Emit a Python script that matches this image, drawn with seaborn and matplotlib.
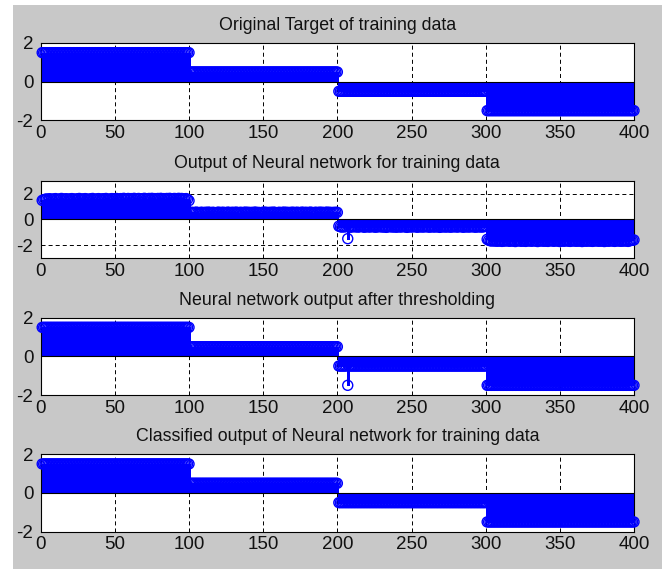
import matplotlib
matplotlib.use("Agg")
import numpy as np
import pandas as pd
import seaborn as sns
import matplotlib.pyplot as plt
from matplotlib.patches import Rectangle

# ---------------- data ----------------
sample_index = list(range(1, 401))
class_levels = [1.5, 0.5, -0.5, -1.5]
samples_per_class = 100
target = [lvl for lvl in class_levels for _ in range(samples_per_class)]

nn_output_class1 = [
    1.47, 1.52, 1.56, 1.58, 1.55, 1.60, 1.57, 1.53, 1.59, 1.61,
    1.56, 1.54, 1.58, 1.62, 1.57, 1.55, 1.60, 1.58, 1.53, 1.59,
    1.61, 1.56, 1.58, 1.54, 1.60, 1.62, 1.57, 1.55, 1.59, 1.61,
    1.58, 1.53, 1.57, 1.60, 1.62, 1.56, 1.54, 1.59, 1.61, 1.57,
    1.55, 1.60, 1.58, 1.62, 1.56, 1.53, 1.59, 1.61, 1.57, 1.60,
    1.62, 1.58, 1.55, 1.61, 1.59, 1.63, 1.57, 1.60, 1.62, 1.56,
    1.61, 1.58, 1.63, 1.59, 1.57, 1.62, 1.60, 1.55, 1.61, 1.63,
    1.58, 1.60, 1.62, 1.57, 1.63, 1.59, 1.61, 1.56, 1.62, 1.60,
    1.63, 1.58, 1.61, 1.59, 1.62, 1.57, 1.63, 1.60, 1.58, 1.62,
    1.61, 1.59, 1.63, 1.57, 1.62, 1.60, 1.58, 1.61, 1.55, 1.45,
]
nn_output_class2 = [
    0.53, 0.55, 0.52, 0.54, 0.56, 0.53, 0.51, 0.55, 0.54, 0.52,
    0.55, 0.53, 0.56, 0.54, 0.52, 0.55, 0.53, 0.51, 0.54, 0.56,
    0.52, 0.54, 0.55, 0.53, 0.51, 0.56, 0.54, 0.52, 0.55, 0.53,
    0.54, 0.56, 0.52, 0.53, 0.55, 0.51, 0.54, 0.56, 0.53, 0.55,
    0.52, 0.54, 0.53, 0.55, 0.56, 0.52, 0.54, 0.51, 0.53, 0.55,
    0.56, 0.53, 0.54, 0.52, 0.55, 0.53, 0.56, 0.54, 0.51, 0.53,
    0.55, 0.52, 0.54, 0.56, 0.53, 0.55, 0.52, 0.54, 0.53, 0.56,
    0.51, 0.54, 0.55, 0.53, 0.52, 0.56, 0.54, 0.53, 0.55, 0.52,
    0.54, 0.56, 0.53, 0.51, 0.55, 0.54, 0.52, 0.56, 0.53, 0.55,
    0.52, 0.54, 0.56, 0.53, 0.55, 0.51, 0.54, 0.53, 0.55, 0.54,
]
nn_output_class3 = [
    -0.53, -0.57, -0.60, -0.56, -0.59, -0.55, -1.50, -0.58, -0.61, -0.57,
    -0.55, -0.59, -0.56, -0.60, -0.58, -0.54, -0.57, -0.61, -0.59, -0.56,
    -0.58, -0.60, -0.55, -0.57, -0.59, -0.61, -0.56, -0.58, -0.54, -0.60,
    -0.57, -0.59, -0.62, -0.56, -0.58, -0.55, -0.60, -0.57, -0.59, -0.61,
    -0.56, -0.58, -0.60, -0.55, -0.57, -0.59, -0.62, -0.58, -0.56, -0.60,
    -0.57, -0.55, -0.59, -0.61, -0.58, -0.56, -0.60, -0.57, -0.59, -0.55,
    -0.58, -0.61, -0.56, -0.59, -0.57, -0.60, -0.55, -0.58, -0.62, -0.57,
    -0.59, -0.56, -0.60, -0.58, -0.55, -0.61, -0.57, -0.59, -0.56, -0.58,
    -0.60, -0.57, -0.55, -0.59, -0.61, -0.58, -0.56, -0.60, -0.57, -0.59,
    -0.55, -0.58, -0.61, -0.57, -0.59, -0.56, -0.60, -0.58, -0.57, -0.52,
]
nn_output_class4 = [
    -1.55, -1.62, -1.66, -1.68, -1.64, -1.69, -1.66, -1.70, -1.65, -1.68,
    -1.71, -1.66, -1.69, -1.64, -1.67, -1.70, -1.68, -1.65, -1.69, -1.72,
    -1.67, -1.64, -1.68, -1.70, -1.66, -1.69, -1.71, -1.65, -1.68, -1.66,
    -1.70, -1.67, -1.64, -1.69, -1.72, -1.66, -1.68, -1.65, -1.70, -1.67,
    -1.69, -1.71, -1.66, -1.64, -1.68, -1.70, -1.67, -1.65, -1.69, -1.72,
    -1.66, -1.68, -1.70, -1.64, -1.67, -1.69, -1.71, -1.65, -1.68, -1.66,
    -1.70, -1.67, -1.69, -1.64, -1.72, -1.68, -1.66, -1.70, -1.65, -1.69,
    -1.67, -1.71, -1.66, -1.68, -1.64, -1.70, -1.67, -1.69, -1.65, -1.72,
    -1.68, -1.66, -1.70, -1.67, -1.64, -1.69, -1.71, -1.65, -1.68, -1.66,
    -1.70, -1.67, -1.69, -1.65, -1.68, -1.71, -1.66, -1.64, -1.62, -1.60,
]
nn_output = nn_output_class1 + nn_output_class2 + nn_output_class3 + nn_output_class4

misclassified_index = [207]
misclassified_value = [-1.5]
thresholded = list(target)
for idx, val in zip(misclassified_index, misclassified_value):
    thresholded[idx - 1] = val
classified = list(target)

titles = [
    "Original Target of training data",
    "Output of Neural network for training data",
    "Neural network output after thresholding",
    "Classified output of Neural network for training data",
]
series = [target, nn_output, thresholded, classified]
ylims = [(-2, 2), (-3, 3), (-2, 2), (-2, 2)]
xticks = [0, 50, 100, 150, 200, 250, 300, 350, 400]
yticks = [-2, 0, 2]

# ---------------- style ----------------
sns.set_theme(style="white")
plt.rcParams["font.family"] = ["Liberation Sans", "DejaVu Sans"]
plt.rcParams["lines.scale_dashes"] = False
plt.rcParams["axes.unicode_minus"] = False

W, H = 662, 569
fig = plt.figure(figsize=(W / 100, H / 100), dpi=100, facecolor="white")
fig.add_artist(Rectangle((13 / W, 0), 1 - 13 / W, 1 - 5 / H,
                         transform=fig.transFigure, facecolor="#c8c8c8",
                         edgecolor="none", zorder=-10))

left = 40.7 / W
width = (634 - 40.7) / W
tops_px = [43, 180.7, 317.7, 454.3]
height_px = 77.3
blue = "#0000ff"
text_color = "#111111"

for title, ys, ylim, top in zip(titles, series, ylims, tops_px):
    ax = fig.add_axes([left, 1 - (top + height_px) / H, width, height_px / H])
    ax.set_facecolor("white")
    ax.vlines(sample_index, 0, ys, colors=blue, linewidth=1.0,
              antialiased=False, zorder=2)
    ax.axhline(0, color="black", linewidth=0.8, zorder=2.5)
    df = pd.DataFrame({"x": sample_index, "y": ys})
    sns.scatterplot(data=df, x="x", y="y", ax=ax, marker="o", s=52,
                    color=blue, facecolor="none", edgecolor=blue,
                    linewidth=1.0, zorder=5, legend=False, clip_on=False)
    ax.set_xlim(0, 400)
    ax.set_ylim(*ylim)
    ax.set_xticks(xticks)
    ax.set_yticks(yticks)
    ax.set_xlabel("")
    ax.set_ylabel("")
    ax.set_axisbelow(True)
    ax.grid(True, color="black", linestyle=(0, (2.9, 2.2)), linewidth=0.7)
    for sp in ax.spines.values():
        sp.set_color("black")
        sp.set_linewidth(0.8)
        sp.set_zorder(4)
    ax.tick_params(axis="both", direction="in", length=4, width=0.7,
                   colors="black", labelsize=13.5, labelcolor=text_color)
    ax.tick_params(axis="x", pad=3.3)
    ax.tick_params(axis="y", pad=5.2)
    ax.set_title(title, fontsize=12.8, pad=9.5, color=text_color)

fig.savefig("out.png", dpi=100, facecolor=fig.get_facecolor())
